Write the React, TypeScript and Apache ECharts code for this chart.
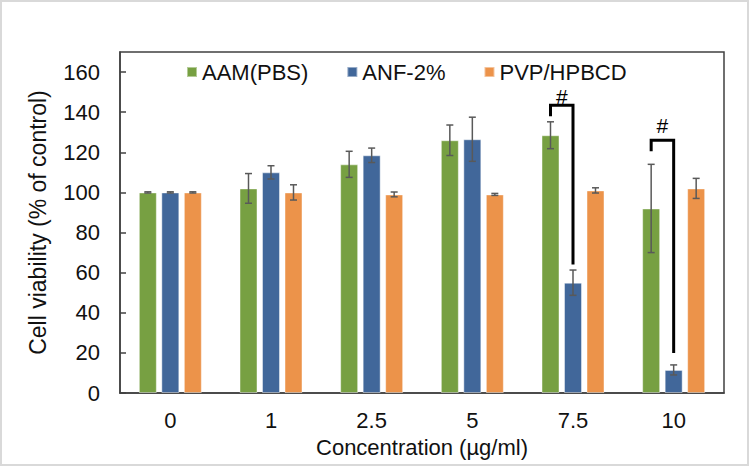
import React, { useEffect, useRef } from 'react';
import * as echarts from 'echarts';

const categories = ['0', '1', '2.5', '5', '7.5', '10'];
const seriesNames = ['AAM(PBS)', 'ANF-2%', 'PVP/HPBCD'];
const aamValues = [100, 102, 114, 126, 128.5, 92];
const aamErrors = [0.3, 7.4, 6.5, 7.6, 6.7, 22];
const anfValues = [100, 110, 118.5, 126.5, 55, 11.5];
const anfErrors = [0.3, 3.3, 3.6, 11, 6.3, 2.5];
const pvpValues = [100, 100, 99, 99, 101, 102];
const pvpErrors = [0.3, 3.8, 1.2, 0.5, 1.3, 5];

// significance brackets (between AAM and ANF bars)
const bracketCats = [4, 5];
const bracketTop = [143.5, 126];
const bracketLeftEnd = [138, 120.5];
const bracketRightEnd = [64, 20];
const bracketLabelY = [148, 133.5];
const bracketLabel = '#';

const yMin = 0;
const yMax = 170;
const yInterval = 20;

const COLORS = ['#77A042', '#41679A', '#EC934A'];
const FONT = '"Liberation Sans", Arial, sans-serif';

export default function App() {
  const ref = useRef<HTMLDivElement>(null);
  useEffect(() => {
    const chart = echarts.init(ref.current!, null, { renderer: 'svg' });
    const BAR_W = 18;
    const STEP = 22.5;

    const errSeries = (vals: number[], errs: number[], off: number) => ({
      type: 'custom',
      silent: true,
      z: 5,
      encode: { x: 0, y: [1, 2] },
      data: vals.map((v, i) => [i, v - errs[i], v + errs[i]]),
      renderItem: (_p: any, api: any) => {
        const lo = api.coord([api.value(0), api.value(1)]);
        const hi = api.coord([api.value(0), api.value(2)]);
        const x = lo[0] + off;
        const c = 3.5;
        const st = { stroke: '#595959', lineWidth: 1.5 };
        return {
          type: 'group',
          children: [
            { type: 'line', shape: { x1: x, y1: hi[1], x2: x, y2: lo[1] }, style: st },
            { type: 'line', shape: { x1: x - c, y1: hi[1], x2: x + c, y2: hi[1] }, style: st },
            { type: 'line', shape: { x1: x - c, y1: lo[1], x2: x + c, y2: lo[1] }, style: st },
          ],
        };
      },
    });

    const bracketSeries = {
      type: 'custom',
      silent: true,
      z: 6,
      encode: { x: 0, y: [1, 2, 3, 4] },
      data: bracketCats.map((c, i) => [c, bracketTop[i], bracketLeftEnd[i], bracketRightEnd[i], bracketLabelY[i]]),
      renderItem: (_p: any, api: any) => {
        const cat = api.value(0);
        const pTop = api.coord([cat, api.value(1)]);
        const yL = api.coord([cat, api.value(2)])[1];
        const yR = api.coord([cat, api.value(3)])[1];
        const yT = api.coord([cat, api.value(4)])[1];
        const xL = pTop[0] - STEP;
        const xR = pTop[0];
        return {
          type: 'group',
          children: [
            {
              type: 'polyline',
              shape: { points: [[xL, yL], [xL, pTop[1]], [xR, pTop[1]], [xR, yR]] },
              style: { stroke: '#000', lineWidth: 3, fill: 'none', lineJoin: 'miter' },
            },
            {
              type: 'text',
              x: (xL + xR) / 2,
              y: yT,
              style: {
                text: bracketLabel,
                fontSize: 21,
                lineHeight: 16,
                fontFamily: FONT,
                fill: '#000',
                align: 'center',
                verticalAlign: 'middle',
              },
            },
          ],
        };
      },
    };

    const barSeries = (name: string, vals: number[], color: string) => ({
      name,
      type: 'bar',
      data: vals,
      barWidth: BAR_W,
      barGap: '25%',
      itemStyle: { color, borderColor: 'rgba(255,255,255,0.45)', borderWidth: 1 },
    });

    chart.setOption({
      animation: false,
      backgroundColor: '#ffffff',
      textStyle: { fontFamily: FONT },
      graphic: [
        {
          type: 'rect',
          shape: { x: 1, y: 1, width: 747, height: 464 },
          style: { fill: 'none', stroke: '#d9d9d9', lineWidth: 2 },
          silent: true,
        },
      ],
      grid: {
        left: 120,
        right: 26,
        top: 52,
        bottom: 74,
        show: true,
        borderColor: '#404040',
        borderWidth: 1.5,
      },
      legend: {
        data: seriesNames,
        left: 181,
        top: 56,
        icon: 'rect',
        itemWidth: 10,
        itemHeight: 10,
        itemGap: 38,
        textStyle: { fontSize: 22, lineHeight: 20, color: '#111', fontFamily: FONT },
      },
      xAxis: {
        type: 'category',
        data: categories,
        name: 'Concentration (µg/ml)',
        nameLocation: 'middle',
        nameGap: 43,
        nameTextStyle: { fontSize: 22, color: '#111', fontFamily: FONT },
        axisLine: { lineStyle: { color: '#404040', width: 1.5 } },
        axisTick: { inside: true, length: 6, lineStyle: { color: '#404040', width: 1.5 } },
        axisLabel: { fontSize: 22, color: '#111', margin: 16, fontFamily: FONT },
      },
      yAxis: {
        type: 'value',
        min: yMin,
        max: yMax,
        interval: yInterval,
        name: 'Cell viability (% of control)',
        nameLocation: 'middle',
        nameGap: 71,
        nameTextStyle: { fontSize: 23, color: '#111', fontFamily: FONT },
        axisLine: { show: true, lineStyle: { color: '#404040', width: 1.5 } },
        axisTick: { show: true, inside: true, length: 6, lineStyle: { color: '#404040', width: 1.5 } },
        axisLabel: { fontSize: 22, color: '#111', margin: 20, showMaxLabel: false, fontFamily: FONT },
        splitLine: { show: false },
      },
      series: [
        barSeries(seriesNames[0], aamValues, COLORS[0]),
        barSeries(seriesNames[1], anfValues, COLORS[1]),
        barSeries(seriesNames[2], pvpValues, COLORS[2]),
        errSeries(aamValues, aamErrors, -STEP),
        errSeries(anfValues, anfErrors, 0),
        errSeries(pvpValues, pvpErrors, STEP),
        bracketSeries,
      ],
    });
    return () => chart.dispose();
  }, []);
  return <div ref={ref} style={{ position: 'fixed', left: 0, top: 0, width: 750, height: 467 }} />;
}
